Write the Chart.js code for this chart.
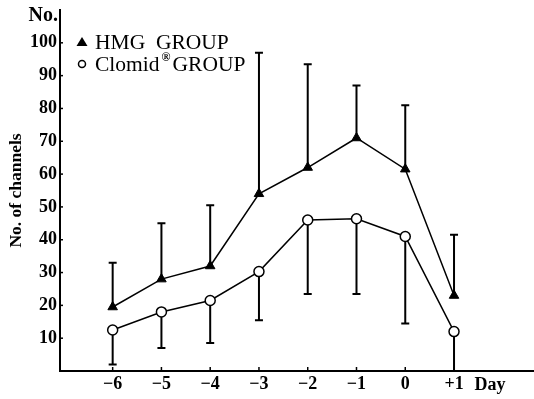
<!DOCTYPE html>
<html>
<head>
<meta charset="utf-8">
<script src="https://cdn.jsdelivr.net/npm/chart.js@4.4.1/dist/chart.umd.min.js"></script>
<style>
  html, body { margin: 0; padding: 0; background: #fff; }
  #wrap { width: 534px; height: 399px; }
</style>
</head>
<body>
<div id="wrap"><canvas id="c" width="534" height="399"></canvas></div>
<script>
// Days relative to the reference day
const days = [-6, -5, -4, -3, -2, -1, 0, 1];
const dayLabels = ['\u22126', '\u22125', '\u22124', '\u22123', '\u22122', '\u22121', '0', '+1'];

// HMG group: mean and upper error limit
const hmgMean  = [19.5, 28, 32, 54, 62, 71, 61.5, 23];
const hmgUpper = [33, 45, 50.5, 97, 93.5, 87, 81, 41.5];

// Clomid group: mean and lower error limit
const clomidMean  = [12.5, 18, 21.5, 30.3, 46, 46.4, 41, 12];
const clomidLower = [2, 7, 8.5, 15.5, 23.5, 23.5, 14.5, 0];

const yTicks = [10, 20, 30, 40, 50, 60, 70, 80, 90, 100];

const SERIF = '"Liberation Serif", "DejaVu Serif", serif';

const toPoints = (ys) => days.map((d, i) => ({ x: d, y: ys[i] }));

// Error bars, tick marks, axis labels and legend drawn with the chart's own scales
const annotate = {
  id: 'annotate',
  beforeDatasetsDraw(chart) {
    const { ctx, scales: { x, y } } = chart;
    ctx.save();
    ctx.strokeStyle = '#000';
    ctx.lineWidth = 2;
    const cap = 4;
    const bar = (d, from, to) => {
      const px = x.getPixelForValue(d);
      const p1 = y.getPixelForValue(from);
      const p2 = y.getPixelForValue(to);
      ctx.beginPath();
      ctx.moveTo(px, p1);
      ctx.lineTo(px, p2);
      ctx.moveTo(px - cap, p2);
      ctx.lineTo(px + cap, p2);
      ctx.stroke();
    };
    days.forEach((d, i) => {
      bar(d, hmgMean[i], hmgUpper[i]);
      bar(d, clomidMean[i], clomidLower[i]);
    });
    ctx.restore();
  },
  afterDraw(chart) {
    const { ctx, chartArea, scales: { x, y } } = chart;
    ctx.save();
    ctx.strokeStyle = '#000';
    ctx.fillStyle = '#000';
    ctx.lineWidth = 1.5;
    // inward tick marks on the y axis
    yTicks.forEach(v => {
      const py = y.getPixelForValue(v);
      ctx.beginPath();
      ctx.moveTo(chartArea.left, py);
      ctx.lineTo(chartArea.left + 3, py);
      ctx.stroke();
    });
    // inward tick marks on the x axis
    days.forEach(d => {
      const px = x.getPixelForValue(d);
      ctx.beginPath();
      ctx.moveTo(px, chartArea.bottom);
      ctx.lineTo(px, chartArea.bottom - 4);
      ctx.stroke();
    });

    // unit label at the top of the y axis
    ctx.font = 'bold 20px ' + SERIF;
    ctx.textAlign = 'right';
    ctx.textBaseline = 'middle';
    ctx.fillText('No.', chartArea.left - 2, y.getPixelForValue(108.3));

    // unit label after the last day
    ctx.font = 'bold 18px ' + SERIF;
    ctx.textAlign = 'center';
    ctx.textBaseline = 'middle';
    ctx.fillText('Day', x.getPixelForValue(1.74), chartArea.bottom + 14);

    // legend
    const lx = 82;
    const r1 = 42, r2 = 64;
    ctx.beginPath();
    ctx.moveTo(lx, r1 - 5);
    ctx.lineTo(lx + 5.5, r1 + 4);
    ctx.lineTo(lx - 5.5, r1 + 4);
    ctx.closePath();
    ctx.fill();
    ctx.beginPath();
    ctx.lineWidth = 1.5;
    ctx.arc(lx, r2, 3.5, 0, Math.PI * 2);
    ctx.stroke();

    ctx.textAlign = 'left';
    ctx.textBaseline = 'middle';
    ctx.font = '21.5px ' + SERIF;
    ctx.fillText('HMG  GROUP', 95, r1 + 1);
    ctx.fillText('Clomid', 95, r2 + 1);
    const w = ctx.measureText('Clomid').width;
    ctx.font = 'bold 12px ' + SERIF;
    ctx.fillText('\u00AE', 95 + w + 2, r2 - 6);
    ctx.font = '21.5px ' + SERIF;
    ctx.fillText('GROUP', 95 + w + 13, r2 + 1);
    ctx.restore();
  }
};

new Chart(document.getElementById('c'), {
  type: 'line',
  data: {
    datasets: [
      {
        label: 'HMG GROUP',
        data: toPoints(hmgMean),
        borderColor: '#000',
        borderWidth: 1.5,
        backgroundColor: '#000',
        pointStyle: 'triangle',
        pointRadius: 5.5,
        pointBorderWidth: 1,
        pointBackgroundColor: '#000',
        pointBorderColor: '#000',
        tension: 0
      },
      {
        label: 'Clomid\u00AE GROUP',
        data: toPoints(clomidMean),
        borderColor: '#000',
        borderWidth: 1.5,
        backgroundColor: '#fff',
        pointStyle: 'circle',
        pointRadius: 5,
        pointBorderWidth: 1.5,
        pointBackgroundColor: '#fff',
        pointBorderColor: '#000',
        tension: 0
      }
    ]
  },
  options: {
    responsive: false,
    animation: false,
    events: [],
    layout: { autoPadding: false, padding: { top: 10, right: 0, left: 0, bottom: 0 } },
    plugins: { legend: { display: false }, tooltip: { enabled: false } },
    scales: {
      x: {
        type: 'linear',
        min: -7.08,
        max: 2.64,
        afterBuildTicks(scale) {
          scale.ticks = days.map(v => ({ value: v }));
        },
        afterFit(scale) {
          scale.height = 28;
          scale.paddingLeft = 0;
          scale.paddingRight = 0;
        },
        ticks: {
          autoSkip: false,
          maxRotation: 0,
          padding: 3,
          color: '#000',
          font: { family: SERIF, size: 18, weight: 'bold' },
          callback(v) {
            const i = days.indexOf(v);
            return i >= 0 ? dayLabels[i] : '';
          }
        },
        grid: { display: false, drawTicks: false },
        border: { display: true, color: '#000', width: 2 }
      },
      y: {
        min: 0,
        max: 110,
        afterBuildTicks(scale) {
          scale.ticks = yTicks.map(v => ({ value: v }));
        },
        afterFit(scale) {
          scale.width = 60;
          scale.paddingTop = 0;
          scale.paddingBottom = 0;
        },
        ticks: {
          autoSkip: false,
          padding: 3,
          color: '#000',
          font: { family: SERIF, size: 18, weight: 'bold' }
        },
        title: {
          display: true,
          text: 'No. of channels',
          color: '#000',
          padding: { top: 6, bottom: 0 },
          font: { family: SERIF, size: 17.5, weight: 'bold' }
        },
        grid: { display: false, drawTicks: false },
        border: { display: true, color: '#000', width: 2 }
      }
    }
  },
  plugins: [annotate]
});
</script>
</body>
</html>
